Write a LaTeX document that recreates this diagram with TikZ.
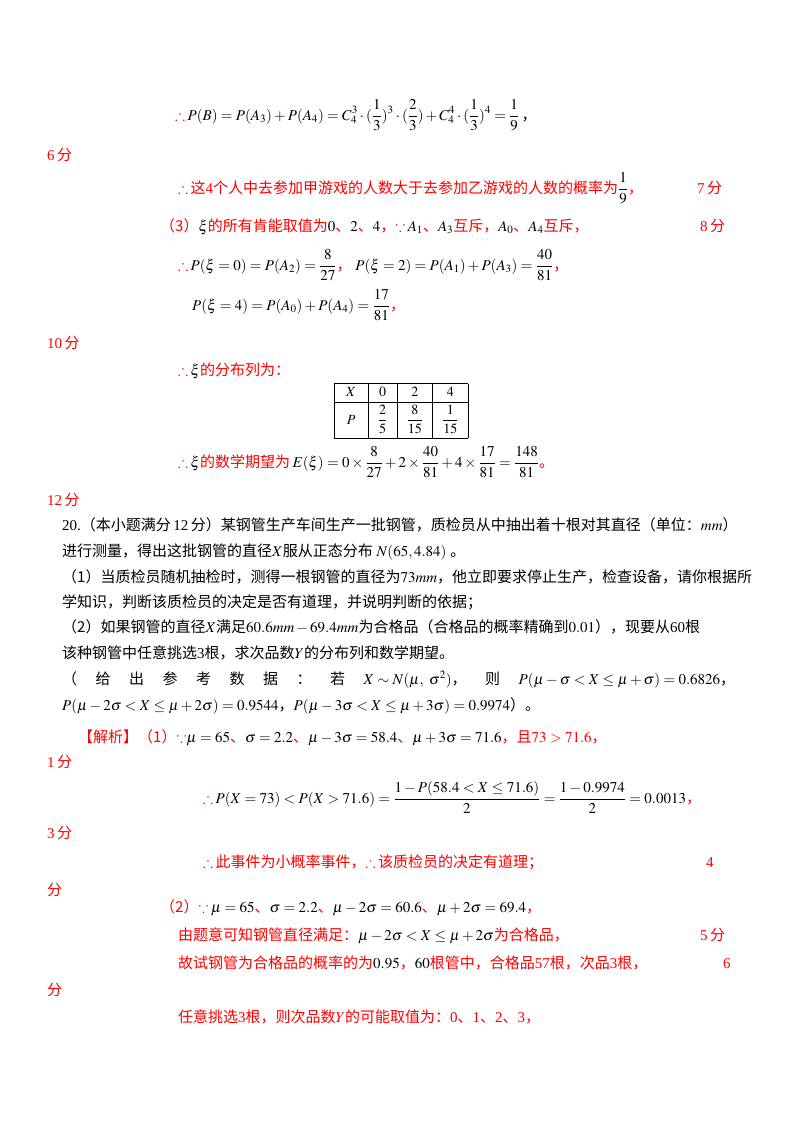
\documentclass[tikz,border=0pt]{standalone}
\usepackage{mathptmx}
\usepackage{amsmath,amssymb,array}
\usepackage{fontspec}
\setmainfont{Liberation Serif}
\newfontfamily\cjk{Noto Sans CJK SC}
\newcommand{\zr}[1]{{\cjk\color{red}#1}}
\newcommand{\zb}[1]{{\cjk #1}}
\newcommand{\tf}{\textcolor{red}{$\therefore$}\,}
\begin{document}
\begin{tikzpicture}[x=1pt,y=-1pt,
  t/.style={anchor=base west,inner sep=0pt,font=\fontsize{15}{18}\selectfont},
  r/.style={t,text=red}]
\useasboundingbox (0,0) rectangle (800,1132);
\fill[white] (0,0) rectangle (800,1132);
\node[t] (l1) at (175,120) {\tf$\displaystyle P(B)=P(A_3)+P(A_4)=C_4^3\cdot(\frac13)^3\cdot(\frac23)+C_4^4\cdot(\frac13)^4=\frac19$\,\zb{，}};
\node[r] (s6) at (47,160) {6\,\zr{分}};
\node[t] (l2) at (178,193) {\tf\zr{这}\textcolor{red}{4}\zr{个人中去参加甲游戏的人数大于去参加乙游戏的人数的概率为}$\displaystyle\frac19$\zr{，}};
\node[r] (s7) at (697,193) {7\,\zr{分}};
\node[t] (l3) at (160,231) {\zr{（3）}$\xi$\zr{的所有肯能取值为}$0$\zr{、}$2$\zr{、}$4$\zr{，}\textcolor{red}{$\because$}\,$A_1$\zr{、}$A_3$\zr{互斥，}$A_0$\zr{、}$A_4$\zr{互斥，}};
\node[r] (s8) at (700,231) {8\,\zr{分}};
\node[t] (l4) at (178,270) {\tf$\displaystyle P(\xi=0)=P(A_2)=\frac{8}{27}$\zr{，}\ $\displaystyle P(\xi=2)=P(A_1)+P(A_3)=\frac{40}{81}$\zr{，}};
\node[t] (l5) at (192,310) {$\displaystyle P(\xi=4)=P(A_0)+P(A_4)=\frac{17}{81}$\zr{，}};
\node[r] (s10) at (47,348) {10\,\zr{分}};
\node[t] (l6) at (178,375) {\tf$\xi$\zr{的分布列为：}};
\node[anchor=north west,inner sep=0pt,font=\fontsize{14}{16}\selectfont] (tab) at (334,383)
 {\renewcommand{\arraystretch}{1.0}\setlength{\tabcolsep}{0pt}%
 \begin{tabular}{|>{\centering\arraybackslash}p{33pt}|>{\centering\arraybackslash}p{29pt}|>{\centering\arraybackslash}p{35pt}|>{\centering\arraybackslash}p{35pt}|}\hline
 \rule[-5pt]{0pt}{18pt}$X$ & $0$ & $2$ & $4$\\\hline
 \rule[-14pt]{0pt}{36pt}$P$ & $\dfrac25$ & $\dfrac{8}{15}$ & $\dfrac1{15}$\\\hline
 \end{tabular}};
\node[t] (l7) at (178,467) {\tf$\xi$\zr{的数学期望为}\,$\displaystyle E(\xi)=0\times\frac{8}{27}+2\times\frac{40}{81}+4\times\frac{17}{81}=\frac{148}{81}$\zr{。}};
\node[r] (s12) at (47,505) {12\,\zr{分}};
\node[t] (p1) at (62,530) {\makebox[673pt][s]{20.\hfill\zb{（本小题满分}\,12\,\zb{分）某钢管生产车间生产一批钢管，质检员从中抽出着十根对其直径（单位：}$mm$\zb{）}}};
\node[t] (p2) at (62,556) {\zb{进行测量，得出这批钢管的直径}$X$\zb{服从正态分布}\ $N(65,4.84)$\ \zb{。}};
\node[t] (p3) at (62,582) {\zb{（1）当质检员随机抽检时，测得一根钢管的直径为}$73mm$\zb{，他立即要求停止生产，检查设备，请你根据所}};
\node[t] (p4) at (62,607) {\zb{学知识，判断该质检员的决定是否有道理，并说明判断的依据；}};
\node[t] (p5) at (62,632) {\zb{（2）如果钢管的直径}$X$\zb{满足}$60.6mm-69.4mm$\zb{为合格品（合格品的概率精确到}$0.01$\zb{），现要从}60\zb{根}};
\node[t] (p6) at (62,658) {\zb{该种钢管中任意挑选}3\zb{根，求次品数}$Y$\zb{的分布列和数学期望。}};
\node[t] (p7) at (62,684) {\makebox[673pt][s]{\zb{（}\hfill\zb{给}\hfill\zb{出}\hfill\zb{参}\hfill\zb{考}\hfill\zb{数}\hfill\zb{据}\hfill\zb{：}\hfill\zb{若}\hfill$X\sim N(\mu,\ \sigma^2)$\zb{，}\hfill\zb{则}\hfill$P(\mu-\sigma<X\le\mu+\sigma)=0.6826$\zb{，}}};
\node[t] (p8) at (62,710) {$P(\mu-2\sigma<X\le\mu+2\sigma)=0.9544$\zb{，}$P(\mu-3\sigma<X\le\mu+3\sigma)=0.9974$\zb{）。}};
\node[t] (a1) at (78,742) {\zr{【解析】（1）}\textcolor{red}{$\because$}$\mu=65$\zr{、}$\sigma=2.2$\zr{、}$\mu-3\sigma=58.4$\zr{、}$\mu+3\sigma=71.6$\zr{，且}\textcolor{red}{$73>71.6$}\zr{，}};
\node[r] (s1) at (47,767) {1\,\zr{分}};
\node[t] (a2) at (203,803) {\tf$\displaystyle P(X=73)<P(X>71.6)=\frac{1-P(58.4<X\le71.6)}{2}=\frac{1-0.9974}{2}=0.0013$\zr{，}};
\node[r] (s3) at (47,838) {3\,\zr{分}};
\node[t] (a3) at (203,867) {\tf\zr{此事件为小概率事件，}\tf\zr{该质检员的决定有道理；}};
\node[r] (s4) at (706,867) {4};
\node[r] (s4b) at (47,895) {\zr{分}};
\node[t] (a4) at (160,912) {\zr{（2）}\textcolor{red}{$\because$}\,$\mu=65$\zr{、}$\sigma=2.2$\zr{、}$\mu-2\sigma=60.6$\zr{、}$\mu+2\sigma=69.4$\zr{，}};
\node[t] (a5) at (178,940) {\zr{由题意可知钢管直径满足：}$\mu-2\sigma<X\le\mu+2\sigma$\zr{为合格品，}};
\node[r] (s5) at (700,940) {5\,\zr{分}};
\node[t] (a6) at (178,968) {\zr{故试钢管为合格品的概率的为}$0.95$\zr{，}$60$\zr{根管中，合格品}\textcolor{red}{57}\zr{根，次品}\textcolor{red}{3}\zr{根，}};
\node[r] (s6b) at (723,968) {6};
\node[r] (s6c) at (47,995) {\zr{分}};
\node[t] (a7) at (178,1022) {\zr{任意挑选}\textcolor{red}{3}\zr{根，则次品数}\textcolor{red}{$Y$}\zr{的可能取值为：}\textcolor{red}{0}\zr{、}\textcolor{red}{1}\zr{、}\textcolor{red}{2}\zr{、}\textcolor{red}{3}\zr{，}};
\end{tikzpicture}
\end{document}
